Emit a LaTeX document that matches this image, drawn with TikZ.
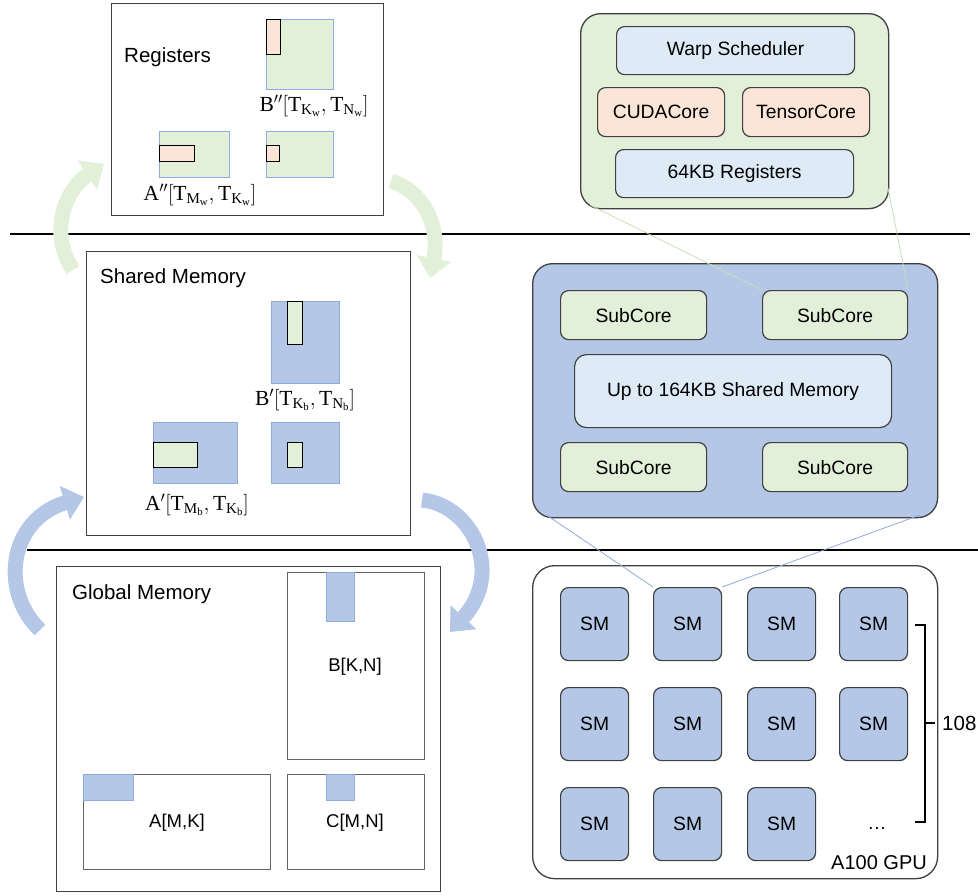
\documentclass[tikz,border=0pt]{standalone}
\usepackage{fix-cm}
\usepackage{fontspec}
\setmainfont{Liberation Serif}
\setsansfont{Liberation Sans}
\usetikzlibrary{arrows.meta,calc}
\definecolor{cblue}{RGB}{180,199,231}
\definecolor{cblueline}{RGB}{143,170,220}
\definecolor{cgreen}{RGB}{226,240,217}
\definecolor{cgreenline}{RGB}{197,224,180}
\definecolor{cpink}{RGB}{251,229,214}
\definecolor{clblue}{RGB}{222,235,247}
\definecolor{cborder}{RGB}{64,64,64}
\begin{document}
\begin{tikzpicture}[x=1pt,y=-1pt,
  outerbox/.style={draw=cborder,line width=1.4pt,fill=white,anchor=north west,inner sep=0pt},
  inbox/.style={draw=cborder!80,line width=1.3pt,fill=white,anchor=north west,inner sep=0pt},
  gtile/.style={draw=cblueline,line width=0.8pt,fill=cgreen,anchor=north west,inner sep=0pt},
  btile/.style={draw=cblueline,line width=0.8pt,fill=cblue,anchor=north west,inner sep=0pt},
  pstrip/.style={draw=black,line width=1.2pt,fill=cpink,anchor=north west,inner sep=0pt},
  gstrip/.style={draw=black,line width=1.2pt,fill=cgreen,anchor=north west,inner sep=0pt},
  hdr/.style={font=\sffamily\fontsize{20.5}{24}\selectfont,anchor=west,inner sep=0pt},
  lbl/.style={font=\sffamily\fontsize{18.5}{22}\selectfont,inner sep=0pt},
  mlbl/.style={font=\fontsize{21.5}{25}\selectfont,inner sep=0pt},
  rtxt/.style={font=\sffamily\fontsize{19.3}{22}\selectfont,inner sep=0pt},
  rbox/.style={draw=cborder,line width=1.2pt,rounded corners=8pt,anchor=north west,inner sep=0pt},
  bigr/.style={draw=cborder,line width=1.3pt,rounded corners=20pt,anchor=north west,inner sep=0pt},
  sizebox/.style 2 args={minimum width=#1pt,minimum height=#2pt},
  garrow/.style={draw=cgreen,line width=15pt,-{Triangle[width=34pt,length=20pt]}},
  barrow/.style={draw=cblue,line width=15pt,-{Triangle[width=34pt,length=20pt]}},
]
\useasboundingbox (0,0) rectangle (978,895);

% separators
\draw[line width=2.5pt] (10,234) -- (970,234);
\draw[line width=2.5pt] (27,550) -- (978,550);

% curved arrows
\draw[garrow] (73,270) .. controls (50,235) and (62,192) .. (104,164);
\draw[garrow] (391,181) .. controls (425,192) and (440,228) .. (430,278);
\draw[barrow] (40,630) .. controls (0,592) and (8,520) .. (84,497);
\draw[barrow] (422,500) .. controls (472,505) and (505,572) .. (450,632);

% ---------- Registers ----------
\node[outerbox,sizebox={272}{212}] (reg) at (111,3) {};
\node[hdr] (regt) at (124,57) {Registers};
\node[gtile,sizebox={67}{70}] (rb) at (266,19) {};
\node[pstrip,sizebox={14}{35}] (rbs) at (266,19) {};
\node[gtile,sizebox={70}{46}] (ra) at (159,131) {};
\node[pstrip,sizebox={35}{16}] (ras) at (159,145) {};
\node[gtile,sizebox={67}{46}] (rc) at (266,131) {};
\node[pstrip,sizebox={13}{16}] (rcs) at (266,145) {};
\node[mlbl] (rbl) at (314,106) {$\mathrm{B^{\prime\prime}[T_{K_w},T_{N_w}]}$};
\node[mlbl] (ral) at (200,195) {$\mathrm{A^{\prime\prime}[T_{M_w},T_{K_w}]}$};

% ---------- Shared Memory ----------
\node[outerbox,sizebox={324}{284}] (shm) at (86,251) {};
\node[hdr] (shmt) at (100,278) {Shared Memory};
\node[btile,sizebox={68}{82}] (sb) at (271,301) {};
\node[gstrip,sizebox={15}{43}] (sbs) at (287,301) {};
\node[btile,sizebox={84}{61}] (sa) at (153,422) {};
\node[gstrip,sizebox={44}{25}] (sas) at (153,442) {};
\node[btile,sizebox={68}{61}] (sc) at (271,422) {};
\node[gstrip,sizebox={15}{25}] (scs) at (287,442) {};
\node[mlbl] (sbl) at (305,400) {$\mathrm{B^{\prime}[T_{K_b},T_{N_b}]}$};
\node[mlbl] (sal) at (197,505) {$\mathrm{A^{\prime}[T_{M_b},T_{K_b}]}$};

% ---------- Global Memory ----------
\node[outerbox,sizebox={384}{325}] (glb) at (56,566) {};
\node[hdr] (glbt) at (72,594) {Global Memory};
\node[inbox,sizebox={137}{187}] (gb) at (287,572) {};
\node[btile,sizebox={28}{49}] (gbp) at (326,572) {};
\node[lbl] at (355,667) {B[K,N]};
\node[inbox,sizebox={187}{95}] (ga) at (83,774) {};
\node[btile,sizebox={50}{26}] (gap) at (83,774) {};
\node[lbl] at (177,823) {A[M,K]};
\node[inbox,sizebox={137}{95}] (gc) at (287,774) {};
\node[btile,sizebox={28}{26}] (gcp) at (326,774) {};
\node[lbl] at (355,823) {C[M,N]};

% ---------- SubCore detail ----------
\node[bigr,fill=cgreen,sizebox={308}{195}] (sub) at (580,13) {};
\node[rbox,fill=clblue,sizebox={238}{48}] (warp) at (616,26) {};
\node[rtxt] at (warp.center) {Warp Scheduler};
\node[rbox,fill=cpink,sizebox={127}{49}] (cuda) at (597,87) {};
\node[rtxt] at (cuda.center) {CUDACore};
\node[rbox,fill=cpink,sizebox={127}{49}] (tens) at (742,87) {};
\node[rtxt] at (tens.center) {TensorCore};
\node[rbox,fill=clblue,sizebox={238}{48}] (regs) at (615,149) {};
\node[rtxt] at (regs.center) {64KB Registers};

% ---------- SM detail ----------
\node[bigr,fill=cblue,sizebox={405}{254}] (smd) at (532,263) {};
\node[rbox,fill=cgreen,sizebox={146}{49}] (sc1) at (560,290) {};
\node[rtxt] at (sc1.center) {SubCore};
\node[rbox,fill=cgreen,sizebox={145}{49}] (sc2) at (762,290) {};
\node[rtxt] at (sc2.center) {SubCore};
\node[rbox,fill=clblue,rounded corners=12pt,sizebox={317}{73}] (smem) at (574,354) {};
\node[rtxt] at (smem.center) {Up to 164KB Shared Memory};
\node[rbox,fill=cgreen,sizebox={146}{49}] (sc3) at (560,442) {};
\node[rtxt] at (sc3.center) {SubCore};
\node[rbox,fill=cgreen,sizebox={145}{49}] (sc4) at (762,442) {};
\node[rtxt] at (sc4.center) {SubCore};

% ---------- GPU ----------
\node[bigr,fill=white,rounded corners=22pt,sizebox={405}{313}] (gpu) at (532,565) {};
\foreach \r/\y in {1/587,2/687,3/787}{
  \foreach \c/\x in {1/560,2/653,3/747,4/839}{
    \ifnum\r\c=34\else
    \node[rbox,fill=cblue,sizebox={68}{73}] (sm\r\c) at (\x,\y) {};
    \node[rtxt] at (sm\r\c.center) {SM};
    \fi
  }
}
\node[rtxt] (dots) at (877,828) {\dots};
\node[font=\sffamily\fontsize{20}{24}\selectfont,anchor=east,inner sep=0pt] (gpul) at (927,863) {A100 GPU};

% bracket 108
\coordinate (bt) at (915,625);
\coordinate (bb) at (915,822);
\draw[line width=1.2pt] (bt) -- (925,625) -- (925,822) -- (bb);
\draw[line width=1.2pt] (925,723) -- (935,723);
\node[font=\sffamily\fontsize{20.5}{24}\selectfont,anchor=west,inner sep=0pt] (n108) at (942,723) {108};

% zoom connectors
\coordinate (gl) at (590,205);
\coordinate (gr) at (888,188);
\draw[cgreenline,line width=0.8pt] (gl) -- (sc2.north west);
\draw[cgreenline,line width=0.8pt] (gr) -- (sc2.north east);
\coordinate (bl) at (548,516);
\coordinate (br) at (920,515);
\draw[cblueline,line width=0.8pt] (bl) -- (sm12.north west);
\draw[cblueline,line width=0.8pt] (br) -- (sm12.north east);
\end{tikzpicture}
\end{document}
